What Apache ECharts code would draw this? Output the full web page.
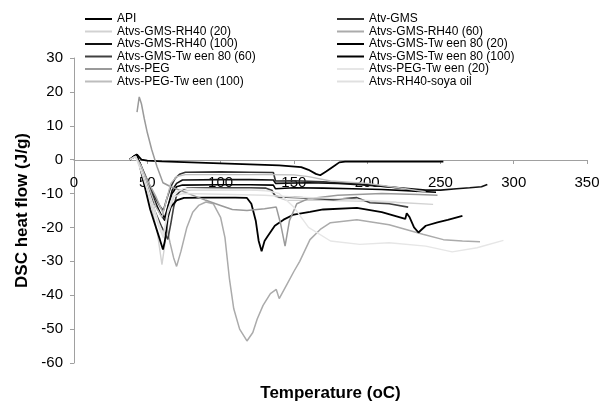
<!DOCTYPE html>
<html>
<head>
<meta charset="utf-8">
<script src="https://cdn.jsdelivr.net/npm/echarts@6/dist/echarts.min.js"></script>
<style>
  html, body { margin: 0; padding: 0; background: #fff; }
  #chart { width: 603px; height: 404px; }
</style>
</head>
<body>
<div id="chart"></div>
<script>
// [temperature (oC), heat flow (J/g)]
const apiCurve = [[38,0],[41,1],[43,1.5],[46,0],[50,-0.3],[60,-0.5],[80,-0.8],[100,-1.1],[120,-1.4],[140,-1.7],[155,-2.2],[160,-3],[165,-4.2],[168,-4.6],[172,-3.5],[177,-2],[181,-0.8],[185,-0.6],[200,-0.6],[220,-0.6],[240,-0.6],[252,-0.6]];
const atvGms = [[38,0],[42,1.2],[45,-1],[50,-6],[55,-11],[59,-14],[61,-15],[63,-12],[66,-8],[69,-5.5],[72,-4.3],[76,-3.7],[100,-3.6],[120,-3.7],[136,-3.8],[137.5,-6.3],[150,-6.2],[170,-6.5],[190,-7],[210,-7.8],[225,-8.5],[234,-9.4]];
const rh40_20 = [[38,0],[42,1],[46,-3],[52,-12],[57,-22],[60,-31],[62,-25],[65,-16],[68,-11],[72,-9.5],[80,-9],[100,-9],[120,-9],[134,-9.2],[138,-11],[145,-12],[170,-12],[200,-12.3],[225,-12.7],[245,-13.2]];
const rh40_60 = [[44,-1],[50,-6],[56,-11],[62,-17],[65.5,-24.5],[68,-29],[70,-31.5],[73,-27],[77,-20],[81,-15.5],[85,-13.5],[90,-12.5],[95,-13],[100,-17],[103,-23],[106,-35],[109,-44],[113,-50],[118,-53.5],[122,-51],[125,-47],[129,-43],[134,-39.5],[138,-38.3],[140,-41],[145,-37],[150,-33],[154,-30],[161,-23.6],[168,-20.6],[175,-18.6],[193,-17.7],[215,-19.2],[238,-22],[252,-23.6],[265,-24],[277,-24.2]];
const rh40_100 = [[38,0],[42,1.3],[45,-1],[50,-7],[55,-12],[59,-16],[62,-18],[64,-14],[67,-9],[70,-7],[74,-6],[100,-5.9],[120,-5.9],[136,-6],[137.5,-7],[160,-6.8],[180,-7],[200,-7.5],[220,-8.2],[240,-9],[250,-9],[261,-8.6],[270,-8.3],[278,-8],[282,-7.3]];
const tw80_20 = [[38,0],[42,1.2],[45,-1.5],[50,-8],[55,-13],[59,-16],[62,-17],[64,-14],[67,-10],[70,-8],[74,-7.5],[100,-7.4],[120,-7.4],[136,-7.5],[137.5,-8.6],[150,-8.3],[170,-8.4],[190,-8.6],[210,-8.8],[230,-9.2],[247,-9.6]];
const tw80_60 = [[38,0],[42,1],[45,-1],[50,-8],[55,-15],[60,-20],[64,-23.5],[66,-19],[68,-14],[70,-10.5],[73,-9],[77,-8.4],[100,-8.3],[120,-8.3],[131,-8.4],[135,-9],[137,-10.5],[140,-11],[154,-11.2],[177,-11.8],[193,-11.2],[202,-12.7],[215,-13],[228,-14]];
const tw80_100 = [[38,0],[41,1],[43,1.5],[45,-2],[52,-14.7],[58.6,-23.6],[60.7,-26.5],[62,-24],[64,-17],[66,-14],[70,-12],[75,-11.3],[90,-11.2],[110,-11.2],[118,-11.3],[121,-13],[124,-18],[126,-24],[128,-27],[130,-24],[132,-22.7],[137,-19.5],[143,-17.7],[150,-16.2],[161,-15.4],[170,-14.7],[193,-14.2],[210,-15.5],[226,-17.5],[227,-15.8],[229,-17],[232,-20],[235,-21.5],[240,-19.5],[248,-18.5],[255,-17.8],[260,-17.2],[265,-16.6]];
const pegCurve = [[43,14],[44.5,18.5],[46,16.5],[48,12],[50,8],[53,3],[56.6,-2],[60.7,-6.8],[66,-8],[75,-9.5],[90,-12],[100,-13.5],[108,-14.7],[118,-15],[130,-14.5],[138,-14],[141,-19],[144,-25.5],[147,-18],[152,-13],[160,-11.5],[180,-10.5],[210,-10],[235,-10.3],[248,-10.5]];
const pegTw20 = [[38,0],[42,1],[47,-4],[53,-12],[58,-19],[61,-22],[64,-15],[68,-10],[75,-8.5],[100,-8.8],[130,-9],[140,-10],[150,-14],[160,-20],[175,-24],[195,-25],[215,-24.5],[240,-25.5],[258,-27.2],[275,-26],[293,-23.8]];
const pegTw100 = [[38,0],[42,1],[46,-2],[51,-8],[56,-14],[60,-17],[63,-12],[66,-7],[70,-5],[76,-4.4],[100,-4.4],[130,-4.4],[150,-4.5],[160,-5],[175,-6.3],[200,-7],[225,-8.5],[240,-9.5]];
const rh40Soya = [[38,0],[42,1],[47,-5],[53,-13],[58,-20],[61,-23],[64,-16],[68,-11],[74,-10],[100,-10.2],[130,-10.5],[150,-11],[180,-11.5],[200,-12],[220,-12.5]];

const SERIES_DEFS = [
  { name: "API", data: apiCurve, color: "#000000", width: 1.8 },
  { name: "Atv-GMS", data: atvGms, color: "#333333", width: 1.6 },
  { name: "Atvs-GMS-RH40 (20)", data: rh40_20, color: "#d2d2d2", width: 1.4 },
  { name: "Atvs-GMS-RH40 (60)", data: rh40_60, color: "#ababab", width: 1.5 },
  { name: "Atvs-GMS-RH40 (100)", data: rh40_100, color: "#111111", width: 1.6 },
  { name: "Atvs-GMS-Tw een 80 (20)", data: tw80_20, color: "#000000", width: 1.6 },
  { name: "Atvs-GMS-Tw een 80 (60)", data: tw80_60, color: "#404040", width: 1.6 },
  { name: "Atvs-GMS-Tw een 80 (100)", data: tw80_100, color: "#000000", width: 1.8 },
  { name: "Atvs-PEG", data: pegCurve, color: "#9a9a9a", width: 1.5 },
  { name: "Atvs-PEG-Tw een (20)", data: pegTw20, color: "#e6e6e6", width: 1.4 },
  { name: "Atvs-PEG-Tw een (100)", data: pegTw100, color: "#bdbdbd", width: 1.4 },
  { name: "Atvs-RH40-soya oil", data: rh40Soya, color: "#e0e0e0", width: 1.4 },
];

const LEFT_LEGEND = ["API", "Atvs-GMS-RH40 (20)", "Atvs-GMS-RH40 (100)", "Atvs-GMS-Tw een 80 (60)", "Atvs-PEG", "Atvs-PEG-Tw een (100)"];
const RIGHT_LEGEND = ["Atv-GMS", "Atvs-GMS-RH40 (60)", "Atvs-GMS-Tw een 80 (20)", "Atvs-GMS-Tw een 80 (100)", "Atvs-PEG-Tw een (20)", "Atvs-RH40-soya oil"];

const FONT = "'Liberation Sans', Arial, sans-serif";
// grid is 305px tall for 90 units; y=0 sits 60 units (203px) above the bottom
const ZERO_OFFSET = -203;

function legendAt(left, names) {
  return {
    data: names,
    orient: "vertical",
    left,
    top: 13,
    padding: 0,
    itemWidth: 27,
    itemHeight: 12,
    itemGap: 0.5,
    selectedMode: false,
    itemStyle: { opacity: 0 },
    textStyle: { color: "#000", fontSize: 12, fontFamily: FONT, lineHeight: 12 },
  };
}

const chart = echarts.init(document.getElementById("chart"), null, { renderer: "canvas" });

chart.setOption({
  animation: false,
  backgroundColor: "#ffffff",
  grid: { left: 74, right: 16, top: 58, bottom: 41, containLabel: false, outerBoundsMode: "none" },
  legend: [legendAt(84, LEFT_LEGEND), legendAt(336, RIGHT_LEGEND)],
  xAxis: {
    type: "value",
    min: 0,
    max: 350,
    interval: 50,
    position: "bottom",
    offset: ZERO_OFFSET,
    name: "Temperature (oC)",
    nameLocation: "middle",
    nameGap: 225,
    nameTextStyle: { color: "#000", fontSize: 17, fontWeight: "bold", fontFamily: FONT },
    axisLine: { onZero: false, lineStyle: { color: "#a0a0a0", width: 1 } },
    axisTick: { show: true, length: 4, lineStyle: { color: "#a0a0a0" } },
    axisLabel: { color: "#000", fontSize: 15, fontFamily: FONT, margin: 15 },
    splitLine: { show: false },
  },
  yAxis: {
    type: "value",
    min: -60,
    max: 30,
    interval: 10,
    name: "DSC heat flow (J/g)",
    nameLocation: "middle",
    nameGap: 43,
    nameTextStyle: { color: "#000", fontSize: 17, fontWeight: "bold", fontFamily: FONT },
    axisLine: { show: true, lineStyle: { color: "#a0a0a0", width: 1 } },
    axisTick: { show: true, length: 4, lineStyle: { color: "#a0a0a0" } },
    axisLabel: { color: "#000", fontSize: 15, fontFamily: FONT, margin: 11 },
    splitLine: { show: false },
  },
  series: SERIES_DEFS.map((s) => ({
    name: s.name,
    type: "line",
    data: s.data,
    symbol: "none",
    smooth: false,
    color: s.color,
    lineStyle: { color: s.color, width: s.width },
    emphasis: { disabled: true },
  })),
});
</script>
</body>
</html>
